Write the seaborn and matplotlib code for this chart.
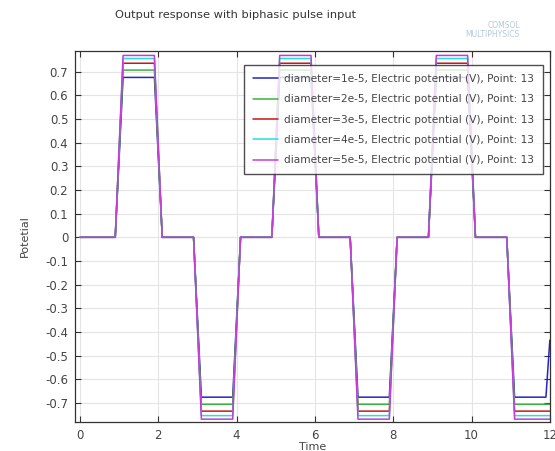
import pandas as pd
import matplotlib.pyplot as plt
import seaborn as sns

# Dados (tempo e potencial no ponto 13)
tempo = [0, 0.9, 1.1, 1.9, 2.1, 2.9, 3.1, 3.9, 4.1, 4.9, 5.1, 5.9, 6.1,
         6.9, 7.1, 7.9, 8.1, 8.9, 9.1, 9.9, 10.1, 10.9, 11.1, 11.9, 12]

pot_1e5 = [0, 0, 0.676, 0.676, 0, 0, -0.676, -0.676, 0, 0, 0.676, 0.676, 0,
           0, -0.676, -0.676, 0, 0, 0.676, 0.676, 0, 0, -0.676, -0.676, -0.435]
pot_2e5 = [0, 0, 0.707, 0.707, 0, 0, -0.706, -0.706, 0, 0, 0.707, 0.707, 0,
           0, -0.706, -0.706, 0, 0, 0.707, 0.707, 0, 0, -0.706, -0.706, -0.706]
pot_3e5 = [0, 0, 0.736, 0.736, 0, 0, -0.735, -0.735, 0, 0, 0.736, 0.736, 0,
           0, -0.735, -0.735, 0, 0, 0.736, 0.736, 0, 0, -0.735, -0.735, -0.735]
pot_4e5 = [0, 0, 0.756, 0.756, 0, 0, -0.754, -0.754, 0, 0, 0.756, 0.756, 0,
           0, -0.754, -0.754, 0, 0, 0.756, 0.756, 0, 0, -0.754, -0.754, -0.754]
pot_5e5 = [0, 0, 0.769, 0.769, 0, 0, -0.769, -0.769, 0, 0, 0.769, 0.769, 0,
           0, -0.769, -0.769, 0, 0, 0.769, 0.769, 0, 0, -0.769, -0.769, -0.769]

rotulos = ['diameter=1e-5, Electric potential (V), Point: 13',
           'diameter=2e-5, Electric potential (V), Point: 13',
           'diameter=3e-5, Electric potential (V), Point: 13',
           'diameter=4e-5, Electric potential (V), Point: 13',
           'diameter=5e-5, Electric potential (V), Point: 13']
series = [pot_1e5, pot_2e5, pot_3e5, pot_4e5, pot_5e5]
cores = ['#2424c8', '#3cb040', '#c81818', '#22e0e0', '#c83ad6']

yticks = [-0.7, -0.6, -0.5, -0.4, -0.3, -0.2, -0.1, 0, 0.1, 0.2, 0.3, 0.4, 0.5, 0.6, 0.7]
ytick_labels = ['-0.7', '-0.6', '-0.5', '-0.4', '-0.3', '-0.2', '-0.1', '0',
                '0.1', '0.2', '0.3', '0.4', '0.5', '0.6', '0.7']
xticks = [0, 2, 4, 6, 8, 10, 12]

df = pd.concat([pd.DataFrame({'Time': tempo, 'Potetial': s, 'serie': r})
                for s, r in zip(series, rotulos)], ignore_index=True)

sns.set_style("white")
plt.rcParams['font.family'] = ['DejaVu Sans']

fig = plt.figure(figsize=(5.55, 4.51), dpi=100)
ax = fig.add_axes([0.1357, 0.0643, 0.855, 0.8233])

sns.lineplot(data=df, x='Time', y='Potetial', hue='serie', hue_order=rotulos,
             palette=cores, linewidth=1.1, ax=ax, sort=False, estimator=None)

ax.set_xlim(-0.12, 12.0)
ax.set_ylim(-0.781, 0.789)
ax.set_xticks(xticks)
ax.set_xticklabels([str(t) for t in xticks])
ax.set_yticks(yticks)
ax.set_yticklabels(ytick_labels)
ax.grid(True, color='#e4e4e4', linewidth=0.8)
ax.set_axisbelow(True)

for s in ax.spines.values():
    s.set_color('#333333')
    s.set_linewidth(0.9)
ax.tick_params(direction='in', length=4, width=0.8, color='#333333',
               labelsize=8.5, labelcolor='#444444', top=True, right=True,
               left=True, bottom=True, pad=5)

ax.set_xlabel('Time', fontsize=8, color='#444444', labelpad=0)
ax.set_ylabel('Potetial', fontsize=8, color='#444444', labelpad=11)

leg = ax.legend(loc='upper right', bbox_to_anchor=(0.985, 0.9615), borderaxespad=0,
                fontsize=7.6, frameon=True, fancybox=False, handlelength=2.4,
                labelspacing=0.98, borderpad=0.85, handletextpad=0.5)
leg.get_frame().set_edgecolor('#222222')
leg.get_frame().set_linewidth(1.0)
for t in leg.get_texts():
    t.set_color('#444444')

fig.text(115 / 555, 1 - 15 / 451, 'Output response with biphasic pulse input',
         fontsize=8.2, color='#333333', ha='left', va='center')
fig.text(520 / 555, 1 - 30 / 451, 'COMSOL\nMULTIPHYSICS', fontsize=5.5,
         color='#b4c8dc', ha='right', va='center', linespacing=0.9)

plt.savefig('out.png', dpi=100)
plt.close()
